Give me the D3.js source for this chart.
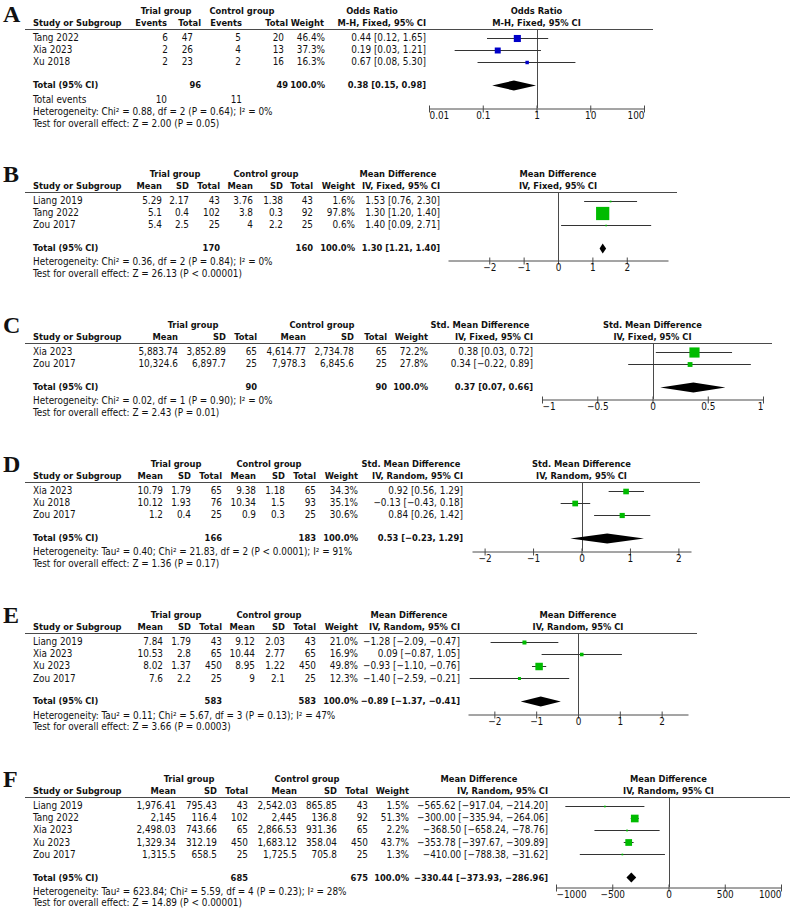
<!DOCTYPE html>
<html><head><meta charset="utf-8">
<script src="https://cdn.jsdelivr.net/npm/d3@7"></script>
<style>
body{margin:0;background:#fff}
text{font-family:"DejaVu Sans Condensed","DejaVu Sans",sans-serif;fill:#111}
</style>
</head><body>
<svg id="c" width="790" height="909"></svg>
<script>
// ================= DATA =================
// Panel A – Odds Ratio (M-H, Fixed)
const aStudies = ["Tang 2022","Xia 2023","Xu 2018"];
const aTrialEvents = [6,2,2];
const aTrialTotal = [47,26,23];
const aCtrlEvents = [5,4,2];
const aCtrlTotal = [20,13,16];
const aWeight = [46.4,37.3,16.3];
const aEst = [0.44,0.19,0.67];
const aLo = [0.12,0.03,0.08];
const aHi = [1.65,1.21,5.30];
const aPooled = [0.38,0.15,0.98];
const aTotals = [96,49];
const aTotalEvents = [10,11];
const aHet = "Heterogeneity: Chi² = 0.88, df = 2 (P = 0.64); I² = 0%";
const aTest = "Test for overall effect: Z = 2.00 (P = 0.05)";
const aTicks = [0.01,0.1,1,10,100];

// Panel B – Mean Difference (IV, Fixed)
const bStudies = ["Liang 2019","Tang 2022","Zou 2017"];
const bTrialMean = [5.29,5.1,5.4];
const bTrialSD = [2.17,0.4,2.5];
const bTrialN = [43,102,25];
const bCtrlMean = [3.76,3.8,4];
const bCtrlSD = [1.38,0.3,2.2];
const bCtrlN = [43,92,25];
const bWeight = [1.6,97.8,0.6];
const bEst = [1.53,1.30,1.40];
const bLo = [0.76,1.20,0.09];
const bHi = [2.30,1.40,2.71];
const bPooled = [1.30,1.21,1.40];
const bTotals = [170,160];
const bHet = "Heterogeneity: Chi² = 0.36, df = 2 (P = 0.84); I² = 0%";
const bTest = "Test for overall effect: Z = 26.13 (P < 0.00001)";
const bTicks = [-2,-1,0,1,2];

// Panel C – Std. Mean Difference (IV, Fixed)
const cStudies = ["Xia 2023","Zou 2017"];
const cTrialMean = [5883.74,10324.6];
const cTrialSD = [3852.89,6897.7];
const cTrialN = [65,25];
const cCtrlMean = [4614.77,7978.3];
const cCtrlSD = [2734.78,6845.6];
const cCtrlN = [65,25];
const cWeight = [72.2,27.8];
const cEst = [0.38,0.34];
const cLo = [0.03,-0.22];
const cHi = [0.72,0.89];
const cPooled = [0.37,0.07,0.66];
const cTotals = [90,90];
const cHet = "Heterogeneity: Chi² = 0.02, df = 1 (P = 0.90); I² = 0%";
const cTest = "Test for overall effect: Z = 2.43 (P = 0.01)";
const cTicks = [-1,-0.5,0,0.5,1];

// Panel D – Std. Mean Difference (IV, Random)
const dStudies = ["Xia 2023","Xu 2018","Zou 2017"];
const dTrialMean = [10.79,10.12,1.2];
const dTrialSD = [1.79,1.93,0.4];
const dTrialN = [65,76,25];
const dCtrlMean = [9.38,10.34,0.9];
const dCtrlSD = [1.18,1.5,0.3];
const dCtrlN = [65,93,25];
const dWeight = [34.3,35.1,30.6];
const dEst = [0.92,-0.13,0.84];
const dLo = [0.56,-0.43,0.26];
const dHi = [1.29,0.18,1.42];
const dPooled = [0.53,-0.23,1.29];
const dTotals = [166,183];
const dHet = "Heterogeneity: Tau² = 0.40; Chi² = 21.83, df = 2 (P < 0.0001); I² = 91%";
const dTest = "Test for overall effect: Z = 1.36 (P = 0.17)";
const dTicks = [-2,-1,0,1,2];

// Panel E – Mean Difference (IV, Random)
const eStudies = ["Liang 2019","Xia 2023","Xu 2023","Zou 2017"];
const eTrialMean = [7.84,10.53,8.02,7.6];
const eTrialSD = [1.79,2.8,1.37,2.2];
const eTrialN = [43,65,450,25];
const eCtrlMean = [9.12,10.44,8.95,9];
const eCtrlSD = [2.03,2.77,1.22,2.1];
const eCtrlN = [43,65,450,25];
const eWeight = [21.0,16.9,49.8,12.3];
const eEst = [-1.28,0.09,-0.93,-1.40];
const eLo = [-2.09,-0.87,-1.10,-2.59];
const eHi = [-0.47,1.05,-0.76,-0.21];
const ePooled = [-0.89,-1.37,-0.41];
const eTotals = [583,583];
const eHet = "Heterogeneity: Tau² = 0.11; Chi² = 5.67, df = 3 (P = 0.13); I² = 47%";
const eTest = "Test for overall effect: Z = 3.66 (P = 0.0003)";
const eTicks = [-2,-1,0,1,2];

// Panel F – Mean Difference (IV, Random)
const fStudies = ["Liang 2019","Tang 2022","Xia 2023","Xu 2023","Zou 2017"];
const fTrialMean = [1976.41,2145,2498.03,1329.34,1315.5];
const fTrialSD = [795.43,116.4,743.66,312.19,658.5];
const fTrialN = [43,102,65,450,25];
const fCtrlMean = [2542.03,2445,2866.53,1683.12,1725.5];
const fCtrlSD = [865.85,136.8,931.36,358.04,705.8];
const fCtrlN = [43,92,65,450,25];
const fWeight = [1.5,51.3,2.2,43.7,1.3];
const fEst = [-565.62,-300.00,-368.50,-353.78,-410.00];
const fLo = [-917.04,-335.94,-658.24,-397.67,-788.38];
const fHi = [-214.20,-264.06,-78.76,-309.89,-31.62];
const fPooled = [-330.44,-373.93,-286.96];
const fTotals = [685,675];
const fHet = "Heterogeneity: Tau² = 623.84; Chi² = 5.59, df = 4 (P = 0.23); I² = 28%";
const fTest = "Test for overall effect: Z = 14.89 (P < 0.00001)";
const fTicks = [-1000,-500,0,500,1000];

// ================= DRAWING =================
const svg = d3.select("#c");
const FAM = '"DejaVu Sans Condensed","DejaVu Sans",sans-serif';

// calibrate font sizes so text widths match the reference layout
const probe = svg.append("text").style("font-family",FAM).style("font-size","10px").text(aHet);
const FS = 10 * 240 / probe.node().getComputedTextLength();
probe.attr("font-weight","bold").text("Study or Subgroup");
const b1 = 10 * 88 / probe.node().getComputedTextLength();
probe.text("Total (95% CI)");
const b2 = 10 * 66 / probe.node().getComputedTextLength();
const FSB = (b1 + b2) / 2;
probe.remove();

const f2 = d3.format(".2f");
const fNum = d3.format(",");
const sizeScale = d3.scaleLinear().domain([0,100]).range([1.5,13.5]);
const LINE = "#4a4a4a";

function drawPanel(p){
  const g = svg.append("g");
  const L = p.L;
  const rowY = i => L + 8.5 + i*12.2;
  const n = p.studies.length;
  const totalY = rowY(n-1) + 23;
  const x = p.x;
  const [rx0, rx1] = x.range();

  const txt = (tx, ty, s, anchor, bold) => g.append("text")
      .attr("x", tx).attr("y", ty).attr("dy","0.36em")
      .attr("text-anchor", anchor || "start")
      .attr("font-weight", bold ? "bold" : "normal")
      .style("font-size", (bold ? FSB : FS) + "px")
      .text(s);

  // panel letter
  g.append("text").attr("x",3).attr("y",p.letterY || (L-10))
    .style("font-family","'Liberation Serif','Times New Roman',serif")
    .style("font-size","24px").attr("font-weight","bold").text(p.letter);

  // header line
  g.append("line").attr("x1",25).attr("x2",rx1+9)
    .attr("y1",L+0.5).attr("y2",L+0.5).attr("stroke",LINE).attr("stroke-width",1);

  // headers
  txt(p.trialC, L-18, "Trial group", "middle", true);
  txt(p.ctrlC, L-18, "Control group", "middle", true);
  txt(p.effC, L-18, p.effTitle, "middle", true);
  txt(p.effR, L-6, p.method, "end", true);
  const pc = x(p.nullV);
  txt(pc, L-18, p.effTitle, "middle", true);
  txt(pc, L-6, p.method, "middle", true);
  txt(33, L-6, "Study or Subgroup", "start", true);
  p.colHead.forEach((h,j) => txt(p.headX[j], L-6, h, "end", true));
  txt(p.wX - (p.wHeadShift||0), L-6, "Weight", "end", true);

  // study rows
  p.studies.forEach((s,i) => {
    const y = rowY(i);
    txt(33, y, s);
    p.cols.forEach((arr,j) => txt(p.colX[j], y, fNum(arr[i]), "end"));
    txt(p.wX, y, p.weight[i].toFixed(1)+"%", "end");
    txt(p.effR, y, f2(p.est[i])+" ["+f2(p.lo[i])+", "+f2(p.hi[i])+"]", "end");
  });

  // total row
  txt(33, totalY, "Total (95% CI)", "start", true);
  txt(p.headX[p.totIdx[0]], totalY, p.totals[0], "end", true);
  txt(p.headX[p.totIdx[1]], totalY, p.totals[1], "end", true);
  txt(p.wX, totalY, "100.0%", "end", true);
  txt(p.effR, totalY, f2(p.pooled[0])+" ["+f2(p.pooled[1])+", "+f2(p.pooled[2])+"]", "end", true);

  let y = totalY;
  if (p.totalEvents){
    y += 15;
    txt(33, y, "Total events");
    txt(p.headX[0], y, p.totalEvents[0], "end");
    txt(p.headX[2], y, p.totalEvents[1], "end");
    y += 12;
  } else {
    y += 14;
  }
  txt(33, y, p.het);
  txt(33, y+11.5, p.test);

  // null line
  g.append("line").attr("x1",Math.round(pc)+0.5).attr("x2",Math.round(pc)+0.5)
    .attr("y1",L+0.5).attr("y2",p.axisY).attr("stroke",LINE);

  // axis
  const ax = g.append("g").attr("transform",`translate(0,${p.axisY+0.5})`)
    .call(d3.axisBottom(x).tickValues(p.ticks).tickSizeOuter(0).tickSizeInner(4)
      .tickFormat(p.tickFmt));
  ax.select(".domain").attr("stroke",LINE);
  ax.selectAll(".tick line").attr("y1",-3).attr("y2",4).attr("stroke",LINE);
  ax.selectAll(".tick text").attr("y",3.5).attr("dy","0.71em")
    .attr("fill","#222").style("font-family",FAM).style("font-size",FS+"px")
    .attr("text-anchor", d => {
      const px = x(d);
      if (Math.abs(px - rx0) < 1) return "start";
      if (Math.abs(px - rx1) < 1) return "end";
      return "middle";
    });

  // CI lines & squares
  p.studies.forEach((s,i) => {
    const yy = Math.round(rowY(i)) + 0.5;
    g.append("line").attr("x1",x(p.lo[i])).attr("x2",x(p.hi[i]))
      .attr("y1",yy).attr("y2",yy).attr("stroke","#333").attr("stroke-width",1);
    const sz = sizeScale(p.weight[i]);
    g.append("rect").attr("x",x(p.est[i])-sz/2).attr("y",yy-sz/2)
      .attr("width",sz).attr("height",sz).attr("fill",p.color);
  });

  // diamond
  const ty = Math.round(totalY)+0.5, hh = 5;
  g.append("path").attr("d",
    `M${x(p.pooled[1])},${ty}L${x(p.pooled[0])},${ty-hh}L${x(p.pooled[2])},${ty}L${x(p.pooled[0])},${ty+hh}Z`)
    .attr("fill","#000");
}

const contHead = ["Mean","SD","Total","Mean","SD","Total"];
const GREEN = "#00bb00";
const tickLin = d3.format("~g");

drawPanel({
  letter:"A", L:29, axisY:108, letterY:21.5,
  x: d3.scaleLog().domain([0.01,100]).range([429,644]), nullV:1,
  ticks:aTicks, tickFmt:d3.format("~g"),
  trialC:166, ctrlC:242, effC:372, effR:426, wX:325, wHeadShift:1,
  colHead:["Events","Total","Events","Total"], headX:[167,201,242,288], colX:[168,193,241,284],
  totIdx:[1,3],
  effTitle:"Odds Ratio", method:"M-H, Fixed, 95% CI",
  studies:aStudies, cols:[aTrialEvents,aTrialTotal,aCtrlEvents,aCtrlTotal],
  weight:aWeight, est:aEst, lo:aLo, hi:aHi, pooled:aPooled, totals:aTotals,
  totalEvents:aTotalEvents, het:aHet, test:aTest, color:"#0000c8"
});

drawPanel({
  letter:"B", L:192, axisY:260,
  x: d3.scaleLinear().domain([-3.2,3.2]).range([448,668]), nullV:0,
  ticks:bTicks, tickFmt:tickLin,
  trialC:175, ctrlC:266, effC:398, effR:440, wX:355,
  colHead:contHead, headX:[162,189,220,253,283,313], colX:[162,189,220,253,283,313],
  totIdx:[2,5],
  effTitle:"Mean Difference", method:"IV, Fixed, 95% CI",
  studies:bStudies, cols:[bTrialMean,bTrialSD,bTrialN,bCtrlMean,bCtrlSD,bCtrlN],
  weight:bWeight, est:bEst, lo:bLo, hi:bHi, pooled:bPooled, totals:bTotals,
  het:bHet, test:bTest, color:GREEN
});

drawPanel({
  letter:"C", L:343, axisY:399,
  x: d3.scaleLinear().domain([-1,1]).range([542,763]), nullV:0,
  ticks:cTicks, tickFmt:tickLin,
  trialC:193, ctrlC:322, effC:480, effR:533, wX:428,
  colHead:contHead, headX:[178,226,257,306,354,387], colX:[178,226,257,306,354,387],
  totIdx:[2,5],
  effTitle:"Std. Mean Difference", method:"IV, Fixed, 95% CI",
  studies:cStudies, cols:[cTrialMean,cTrialSD,cTrialN,cCtrlMean,cCtrlSD,cCtrlN],
  weight:cWeight, est:cEst, lo:cLo, hi:cHi, pooled:cPooled, totals:cTotals,
  het:cHet, test:cTest, color:GREEN
});

drawPanel({
  letter:"D", L:482, axisY:551,
  x: d3.scaleLinear().domain([-2.26,2.26]).range([472,691]), nullV:0,
  ticks:dTicks, tickFmt:tickLin,
  trialC:176, ctrlC:269, effC:411, effR:463, wX:358,
  colHead:contHead, headX:[163,191,222,256,285,316], colX:[163,191,222,256,285,316],
  totIdx:[2,5],
  effTitle:"Std. Mean Difference", method:"IV, Random, 95% CI",
  studies:dStudies, cols:[dTrialMean,dTrialSD,dTrialN,dCtrlMean,dCtrlSD,dCtrlN],
  weight:dWeight, est:dEst, lo:dLo, hi:dHi, pooled:dPooled, totals:dTotals,
  het:dHet, test:dTest, color:GREEN
});

drawPanel({
  letter:"E", L:633, axisY:714,
  x: d3.scaleLinear().domain([-2.63,2.63]).range([468,688]), nullV:0,
  ticks:eTicks, tickFmt:tickLin,
  trialC:176, ctrlC:269, effC:409, effR:460, wX:358,
  colHead:contHead, headX:[163,191,222,255,285,316], colX:[163,191,222,255,285,316],
  totIdx:[2,5],
  effTitle:"Mean Difference", method:"IV, Random, 95% CI",
  studies:eStudies, cols:[eTrialMean,eTrialSD,eTrialN,eCtrlMean,eCtrlSD,eCtrlN],
  weight:eWeight, est:eEst, lo:eLo, hi:eHi, pooled:ePooled, totals:eTotals,
  het:eHet, test:eTest, color:GREEN
});

drawPanel({
  letter:"F", L:797, axisY:887,
  x: d3.scaleLinear().domain([-1000,1000]).range([556,781]), nullV:0,
  ticks:fTicks, tickFmt:tickLin,
  trialC:189, ctrlC:307, effC:479, effR:548, wX:409,
  colHead:contHead, headX:[176,217,248,297,337,368], colX:[176,217,248,297,337,368],
  totIdx:[2,5],
  effTitle:"Mean Difference", method:"IV, Random, 95% CI",
  studies:fStudies, cols:[fTrialMean,fTrialSD,fTrialN,fCtrlMean,fCtrlSD,fCtrlN],
  weight:fWeight, est:fEst, lo:fLo, hi:fHi, pooled:fPooled, totals:fTotals,
  het:fHet, test:fTest, color:GREEN
});
</script>
</body></html>
